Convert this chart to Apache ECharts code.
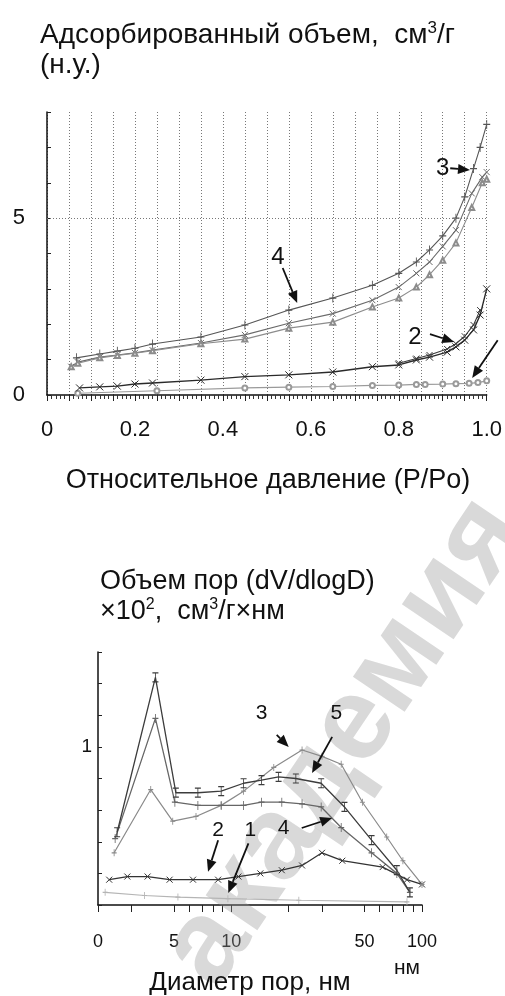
<!DOCTYPE html>
<html><head><meta charset="utf-8">
<script src="https://cdn.jsdelivr.net/npm/echarts@6/dist/echarts.min.js"></script>
<style>html,body{margin:0;padding:0;background:#fff}#c{width:505px;height:996px}</style>
</head><body><div id="c"></div>
<script>
const FONT = 'Liberation Sans, Arial, sans-serif';

// ---------- top chart: adsorption isotherms (P/Po vs volume) ----------
const isoP_1 = [0.07,0.25,0.45,0.55,0.65,0.74,0.8,0.84,0.86,0.9,0.93,0.96,0.98,1.0];
const isoV_1 = [0.05,0.12,0.2,0.22,0.24,0.27,0.28,0.3,0.3,0.31,0.32,0.33,0.35,0.4];
const isoP_2 = [0.074,0.12,0.16,0.2,0.24,0.35,0.45,0.55,0.65,0.74,0.8,0.84,0.87,0.91,0.93,0.95,0.97,0.985,1.0];
const isoV_2 = [0.2,0.23,0.25,0.31,0.34,0.42,0.52,0.57,0.65,0.8,0.85,0.99,1.07,1.21,1.36,1.55,1.84,2.26,3.0];
const isoP_2d = [0.8,0.84,0.87,0.91,0.93,0.95,0.97,0.985];
const isoV_2d = [0.9,1.03,1.13,1.3,1.45,1.66,1.98,2.4];
const isoP_A = [0.067,0.12,0.16,0.2,0.24,0.35,0.45,0.55,0.65,0.74,0.8,0.84,0.87,0.9,0.93,0.95,0.97,0.985,1.0];
const isoV_A = [1.05,1.16,1.24,1.32,1.44,1.64,1.98,2.4,2.74,3.1,3.44,3.76,4.1,4.5,5.0,5.6,6.4,7.0,7.65];
const isoP_B = [0.055,0.07,0.12,0.16,0.2,0.24,0.35,0.45,0.55,0.65,0.74,0.8,0.84,0.87,0.9,0.93,0.966,0.99,1.0];
const isoV_B = [0.8,0.93,1.07,1.13,1.19,1.27,1.47,1.7,2.03,2.3,2.68,3.05,3.44,3.76,4.2,4.66,5.7,6.16,6.3];
const isoP_C = [0.055,0.07,0.12,0.16,0.2,0.24,0.35,0.45,0.55,0.65,0.74,0.8,0.84,0.87,0.9,0.93,0.966,0.99,1.0];
const isoV_C = [0.8,0.9,1.05,1.12,1.18,1.25,1.45,1.58,1.89,2.06,2.49,2.74,3.05,3.4,3.81,4.3,5.3,6.0,6.1];
const pLabels = [0,0.2,0.4,0.6,0.8,1.0];
const vLabels = [0,5];
// annotations top: [text, textX, textY, arrowFromX, arrowFromY, arrowToX, arrowToY]
const topNotes = [
  ['3', 0.9, 6.41, 0.917, 6.41, 0.962, 6.36],
  ['4', 0.525, 3.9, 0.536, 3.59, 0.569, 2.6],
  ['2', 0.837, 1.64, 0.871, 1.72, 0.926, 1.5],
  ['', 1.05, 1.7, 1.025, 1.55, 0.967, 0.48]
];

// ---------- bottom chart: pore size distribution ----------
const dTickVals = [2,3,5,6,7,8,9,10,20,30,50,60,70,80,90,100];
const dLabelVals = [2,5,10,50,100];
const dLabelText = ['0','5','10','50','100'];
const psdLabels = [1];
const psdD_1 = [2.18,3.51,5.25,9.6,22.6,83.4];
const psdV_1 = [0.08,0.06,0.05,0.04,0.03,0.02];
const psdD_2 = [2.29,2.85,3.64,4.75,6.3,8.53,10.9,14.2,18.4,23.5,29.9,38.2,62.2,83.4,100];
const psdV_2 = [0.16,0.18,0.18,0.16,0.16,0.16,0.18,0.2,0.22,0.25,0.33,0.28,0.24,0.16,0.13];
const psdD_3 = [2.43,3.78,4.93,6.53,8.85,11.6,16.7,23.5,29.9,37.7,48.7,65.3,79.4,100];
const psdV_3 = [0.33,0.73,0.53,0.56,0.63,0.72,0.87,0.98,0.94,0.89,0.65,0.43,0.28,0.13];
const psdD_4 = [2.46,4.0,5.06,6.68,8.85,11.6,14.4,18.4,23.5,29.6,37.7,54.4,73.8,86.4];
const psdV_4 = [0.42,1.18,0.65,0.63,0.63,0.63,0.65,0.65,0.64,0.62,0.49,0.33,0.2,0.08];
const psdD_5 = [2.52,4.0,5.12,6.68,8.85,11.6,14.4,17.7,21.8,29.6,39.2,54.4,73.8,86.4];
const psdV_5 = [0.46,1.44,0.71,0.71,0.72,0.77,0.79,0.81,0.80,0.77,0.62,0.41,0.22,0.08];
const botNotes = [
  ['3', 14.4, 1.215, 17.3, 1.076, 20.0, 1.0],
  ['5', 35.5, 1.215, 33.8, 1.063, 26.5, 0.835],
  ['4', 18.8, 0.487, 23.4, 0.487, 33.8, 0.55],
  ['2', 8.53, 0.475, 8.53, 0.41, 7.55, 0.21],
  ['1', 12.6, 0.475, 12.3, 0.39, 9.64, 0.076]
];

const lg = Math.log10;
const zip = (xs, ys) => xs.map((x, i) => [x, ys[i]]);
const zipLog = (xs, ys) => xs.map((x, i) => [lg(x), ys[i]]);

const XMARK = 'path://M0,0L10,10M10,0L0,10';
const IBAR = 'path://M0,0L8,0M4,0L4,12M0,12L8,12';
const VBAR = 'path://M5,0L5,12M2,6L8,6';

function ser(name, data, xi, color, width, symbol, size) {
  return {
    name, type: 'line', xAxisIndex: xi, yAxisIndex: xi, data,
    smooth: false, symbol, symbolSize: size, showSymbol: true,
    lineStyle: { color, width },
    itemStyle: { color: symbol.startsWith('path') ? 'rgba(0,0,0,0)' : color, borderColor: color, borderWidth: 1 },
    emphasis: { disabled: true }, animation: false, clip: false
  };
}

const chart = echarts.init(document.getElementById('c'));
const axisFont = { fontFamily: FONT, color: '#111' };

chart.setOption({
  animation: false,
  backgroundColor: '#fff',
  grid: [
    { left: 47, right: 10, top: 112, height: 283 },
    { left: 98, right: 83, top: 652, height: 253 }
  ],
  xAxis: [
    { gridIndex: 0, type: 'value', min: 0, max: 1, interval: 0.05,
      axisLine: { lineStyle: { color: '#111', width: 1.5 } },
      axisTick: { show: true, length: 6, lineStyle: { color: '#222' } },
      minorTick: { show: true, splitNumber: 5, length: 4, lineStyle: { color: '#333' } },
      splitLine: { show: true, lineStyle: { color: '#777', type: [1, 2], width: 1 } },
      axisLabel: Object.assign({ fontSize: 22, margin: 24, customValues: pLabels,
        formatter: v => v === 0 ? '0' : v.toFixed(1) }, axisFont)
    },
    { gridIndex: 1, type: 'value', min: lg(2), max: 2,
      axisLine: { lineStyle: { color: '#111', width: 1.5 } },
      axisTick: { show: true, length: 7, customValues: dTickVals.map(lg), lineStyle: { color: '#222' } },
      splitLine: { show: false },
      axisLabel: Object.assign({ fontSize: 18, margin: 28, customValues: dLabelVals.map(lg),
        formatter: v => { const i = dLabelVals.findIndex(d => Math.abs(lg(d) - v) < 1e-6); return i >= 0 ? dLabelText[i] : ''; } }, axisFont)
    }
  ],
  yAxis: [
    { gridIndex: 0, type: 'value', min: 0, max: 8, interval: 1,
      axisLine: { show: true, lineStyle: { color: '#111', width: 1.5 } },
      axisTick: { show: true, inside: true, length: 4, lineStyle: { color: '#222' } },
      splitLine: { show: false },
      axisLabel: Object.assign({ fontSize: 22, margin: 22, customValues: vLabels }, axisFont)
    },
    { gridIndex: 1, type: 'value', min: 0, max: 1.6, interval: 0.2,
      axisLine: { show: true, lineStyle: { color: '#111', width: 1.5 } },
      axisTick: { show: true, inside: true, length: 4, lineStyle: { color: '#222' } },
      splitLine: { show: false },
      axisLabel: Object.assign({ fontSize: 19, margin: 6, customValues: psdLabels }, axisFont)
    }
  ],
  series: [
    Object.assign(ser('1', zip(isoP_1, isoV_1), 0, '#9a9a9a', 1.2, 'emptyCircle', 5), {
      markLine: { silent: true, symbol: 'none', label: { show: false },
        lineStyle: { color: '#777', type: [1, 2], width: 1 }, data: [{ yAxis: 5 }] }
    }),
    ser('2', zip(isoP_2, isoV_2), 0, '#2a2a2a', 1.4, XMARK, 7),
    ser('2d', zip(isoP_2d, isoV_2d), 0, '#3a3a3a', 1.1, XMARK, 6),
    ser('A', zip(isoP_A, isoV_A), 0, '#555', 1.1, VBAR, [7, 9]),
    ser('B', zip(isoP_B, isoV_B), 0, '#6a6a6a', 1.1, XMARK, 6),
    ser('C', zip(isoP_C, isoV_C), 0, '#8c8c8c', 1.1, 'emptyTriangle', 5),
    ser('p1', zipLog(psdD_1, psdV_1), 1, '#b5b5b5', 1.2, VBAR, [5, 7]),
    ser('p2', zipLog(psdD_2, psdV_2), 1, '#333', 1.3, XMARK, 6),
    ser('p3', zipLog(psdD_3, psdV_3), 1, '#8a8a8a', 1.2, VBAR, [5, 7]),
    ser('p4', zipLog(psdD_4, psdV_4), 1, '#666', 1.3, VBAR, [6, 9]),
    ser('p5', zipLog(psdD_5, psdV_5), 1, '#3c3c3c', 1.3, IBAR, [6, 9])
  ]
});

function arrow(s, t, color, L, W) {
  const dx = t[0] - s[0], dy = t[1] - s[1];
  const len = Math.hypot(dx, dy) || 1;
  const ux = dx / len, uy = dy / len, nx = -uy, ny = ux;
  const bx = t[0] - ux * L, by = t[1] - uy * L;
  return [
    { type: 'line', silent: true, z: 50, shape: { x1: s[0], y1: s[1], x2: bx, y2: by },
      style: { stroke: color, lineWidth: 1.8 } },
    { type: 'polygon', silent: true, z: 50,
      shape: { points: [[t[0], t[1]], [bx + nx * W, by + ny * W], [bx - nx * W, by - ny * W]] },
      style: { fill: color } }
  ];
}

const g = [];
// watermark
g.push({ type: 'text', silent: true, z: 1, x: 345, y: 742, rotation: 56 * Math.PI / 180,
  style: { text: 'академия', font: 'bold 118px ' + FONT, fill: 'rgba(150,150,150,0.36)', align: 'center', verticalAlign: 'middle' } });

// titles
g.push({ type: 'text', silent: true, z: 60, x: 40, y: 20,
  style: { text: '{a|Адсорбированный объем,  см}{s|3}{a|/г}\n{a|(н.у.)}', fill: '#111',
    rich: { a: { fontSize: 28, fontFamily: FONT, lineHeight: 30, fill: '#111' },
            s: { fontSize: 17, fontFamily: FONT, verticalAlign: 'top', lineHeight: 30, padding: [0,0,13,0], fill: '#111' } } } });
g.push({ type: 'text', silent: true, z: 60, x: 100, y: 567,
  style: { text: '{a|Объем пор (dV/dlogD)}\n{a|×10}{s|2}{a|,  см}{s|3}{a|/г×нм}', fill: '#111',
    rich: { a: { fontSize: 27, fontFamily: FONT, lineHeight: 30, fill: '#111' },
            s: { fontSize: 16, fontFamily: FONT, verticalAlign: 'top', lineHeight: 30, padding: [0,0,13,0], fill: '#111' } } } });
// axis names
g.push({ type: 'text', silent: true, z: 60, x: 268, y: 481,
  style: { text: 'Относительное давление (P/Po)', font: '27px ' + FONT, fill: '#111', align: 'center', verticalAlign: 'middle' } });
g.push({ type: 'text', silent: true, z: 60, x: 250, y: 983,
  style: { text: 'Диаметр пор, нм', font: '26px ' + FONT, fill: '#111', align: 'center', verticalAlign: 'middle' } });
g.push({ type: 'text', silent: true, z: 60, x: 407, y: 968,
  style: { text: 'нм', font: '21px ' + FONT, fill: '#111', align: 'center', verticalAlign: 'middle' } });

function notes(list, gi, toX, fs) {
  list.forEach(n => {
    const tp = chart.convertToPixel({ gridIndex: gi }, [toX(n[1]), n[2]]);
    const s = chart.convertToPixel({ gridIndex: gi }, [toX(n[3]), n[4]]);
    const t = chart.convertToPixel({ gridIndex: gi }, [toX(n[5]), n[6]]);
    if (n[0]) g.push({ type: 'text', silent: true, z: 55, x: tp[0], y: tp[1],
      style: { text: n[0], font: fs + 'px ' + FONT, fill: '#111', align: 'center', verticalAlign: 'middle' } });
    arrow(s, t, '#111', 12, 5).forEach(e => g.push(e));
  });
}
notes(topNotes, 0, x => x, 24);
notes(botNotes, 1, x => lg(x), 21);

chart.setOption({ graphic: g });
</script></body></html>
